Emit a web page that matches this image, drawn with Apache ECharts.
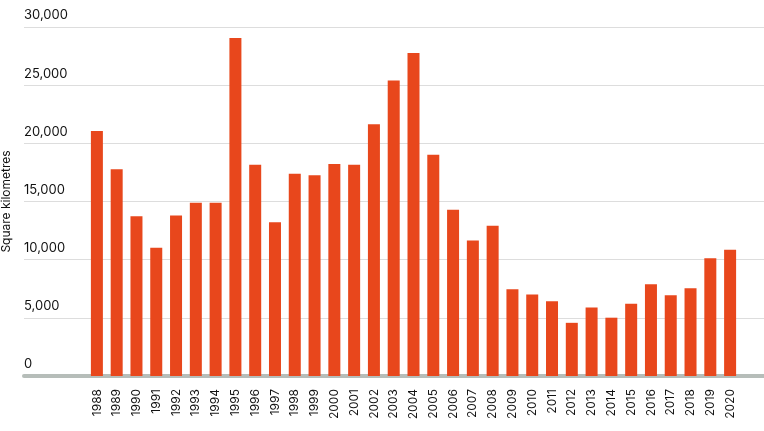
<!DOCTYPE html>
<html>
<head>
<meta charset="utf-8">
<script src="https://cdn.jsdelivr.net/npm/echarts@6/dist/echarts.min.js"></script>
<style>
    html, body { margin: 0; padding: 0; background: #fff; }
    #chart { width: 764px; height: 431px; }
</style>
</head>
<body>
<div id="chart"></div>
<script>
// 年份
var years = ['1988','1989','1990','1991','1992','1993','1994','1995','1996','1997','1998',
    '1999','2000','2001','2002','2003','2004','2005','2006','2007','2008','2009','2010',
    '2011','2012','2013','2014','2015','2016','2017','2018','2019','2020'];
// 面积 (km²)
var areaValues = [21050, 17770, 13730, 11030, 13786, 14896, 14896, 29059, 18161, 13227, 17383,
    17259, 18226, 18165, 21651, 25396, 27772, 19014, 14286, 11651, 12911, 7464, 7000,
    6418, 4571, 5891, 5012, 6207, 7893, 6947, 7536, 10129, 10851];
var yMin = 0, yMax = 30000, yStep = 5000;

var fontFamily = 'Inter, "Noto Sans", sans-serif';
var myChart = echarts.init(document.getElementById('chart'));

var option = {
    animation: false,
    // grid 0: 背景网格线和基线, grid 1: 柱子
    grid: [
        { left: 24, right: 0, top: 27, bottom: 55, outerBoundsMode: 'none', containLabel: false },
        { left: 87, right: 24, top: 27, bottom: 55, outerBoundsMode: 'none', containLabel: false }
    ],
    xAxis: [
        {
            gridIndex: 0,
            type: 'value',
            min: 0,
            max: 1,
            axisLine: { show: true, lineStyle: { color: '#b6bdb9', width: 4 } },
            axisTick: { show: false },
            axisLabel: { show: false },
            splitLine: { show: false }
        },
        {
            gridIndex: 1,
            type: 'category',
            data: years,
            axisLine: { show: false },
            axisTick: { show: false },
            axisLabel: {
                rotate: 90,
                margin: 13,
                interval: 0,
                color: '#111',
                fontSize: 12,
                fontFamily: fontFamily
            }
        }
    ],
    yAxis: [
        {
            gridIndex: 0,
            type: 'value',
            min: yMin,
            max: yMax,
            interval: yStep,
            name: 'Square kilometres',
            nameLocation: 'middle',
            nameGap: 12,
            nameTextStyle: { color: '#111', fontSize: 12, fontFamily: fontFamily },
            axisLine: { show: false },
            axisTick: { show: false },
            axisLabel: {
                inside: true,
                margin: 0,
                verticalAlign: 'bottom',
                padding: [0, 0, 5, 0],
                color: '#111',
                fontSize: 13,
                fontFamily: fontFamily,
                formatter: function (value) {
                    return value.toLocaleString('en-US');
                }
            },
            splitLine: { lineStyle: { color: '#dddddd', width: 1 } }
        },
        {
            gridIndex: 1,
            type: 'value',
            min: yMin,
            max: yMax,
            interval: yStep,
            axisLine: { show: false },
            axisTick: { show: false },
            axisLabel: { show: false },
            splitLine: { show: false }
        }
    ],
    series: [{
        type: 'bar',
        xAxisIndex: 1,
        yAxisIndex: 1,
        data: areaValues,
        barWidth: 12,
        itemStyle: { color: '#e8471c' }
    }]
};
myChart.setOption(option);
</script>
</body>
</html>
